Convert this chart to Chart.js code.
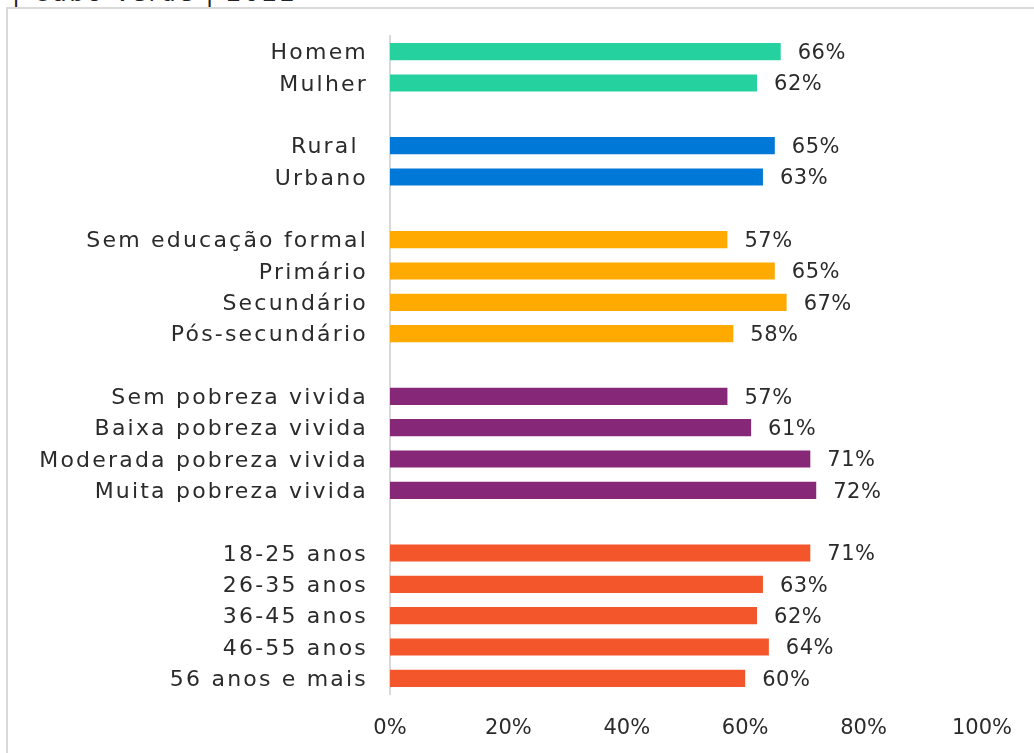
<!DOCTYPE html>
<html lang="pt">
<head>
<meta charset="utf-8">
<title>Cabo Verde 2022</title>
<script src="https://cdn.jsdelivr.net/npm/chart.js@4"></script>
<style>
    html, body { margin: 0; padding: 0; background: #fff; overflow: hidden; }
    #wrap { position: relative; width: 1034px; height: 753px; }
    #topTitle {
        position: absolute; left: 12px; top: -19px;
        font: 24px 'DejaVu Sans', sans-serif; color: #222; white-space: pre;
        line-height: 24px; letter-spacing: 2.5px;
    }
    #frame {
        position: absolute; left: 6px; top: 7px; width: 1100px; height: 800px;
        border: 2px solid #d9d9d9;
    }
    canvas { position: absolute; left: 0; top: 0; }
</style>
</head>
<body>
<div id="wrap">
    <div id="topTitle">| Cabo Verde | 2022</div>
    <div id="frame"></div>
    <canvas id="barras" width="1034" height="753"></canvas>
</div>
<script>
// Categorias (as linhas vazias separam os grupos)
const categorias = [
    'Homem', 'Mulher', '',
    'Rural ', 'Urbano', '',
    'Sem educação formal', 'Primário', 'Secundário', 'Pós-secundário', '',
    'Sem pobreza vivida', 'Baixa pobreza vivida', 'Moderada pobreza vivida', 'Muita pobreza vivida', '',
    '18-25 anos', '26-35 anos', '36-45 anos', '46-55 anos', '56 anos e mais',
];
const valores = [
    66, 62, null,
    65, 63, null,
    57, 65, 67, 58, null,
    57, 61, 71, 72, null,
    71, 63, 62, 64, 60,
];
// Grupo de cada linha (índice em coresGrupo)
const grupos = [
    0, 0, null,
    1, 1, null,
    2, 2, 2, 2, null,
    3, 3, 3, 3, null,
    4, 4, 4, 4, 4,
];
const coresGrupo = ['#25D19F', '#0078D7', '#FFAA00', '#862778', '#F2562A'];
const ticksX = [0, 20, 40, 60, 80, 100];

const FONT = "'DejaVu Sans', sans-serif";
const TXT = '#2b2b2b';

// Espaçamento entre letras das categorias (a fonte original é bem larga)
const espacoPlugin = {
    id: 'espaco',
    beforeDraw: (chart) => { chart.ctx.letterSpacing = '2.2px'; },
};

// Rótulos de valor à direita das barras
const rotulosPlugin = {
    id: 'rotulos',
    afterDatasetsDraw: (chart) => {
        const { ctx: c } = chart;
        const meta = chart.getDatasetMeta(0);
        c.save();
        c.letterSpacing = '0.5px';
        c.font = `21px ${FONT}`;
        c.fillStyle = TXT;
        c.textAlign = 'left';
        c.textBaseline = 'middle';
        meta.data.forEach((bar, i) => {
            if (valores[i] == null) return;
            c.fillText(`${valores[i]}%`, bar.x + 17, bar.y + 2);
        });
        c.restore();
        // rótulos do eixo x são desenhados depois (ticks.z: 1), sem espaçamento
        c.letterSpacing = '0px';
    },
};

new Chart(document.getElementById('barras'), {
    type: 'bar',
    data: {
        labels: categorias,
        datasets: [{
            data: valores,
            backgroundColor: grupos.map(g => g == null ? 'transparent' : coresGrupo[g]),
            borderWidth: 0,
            barPercentage: 0.55,
            categoryPercentage: 1,
        }],
    },
    options: {
        indexAxis: 'y',
        responsive: false,
        animation: false,
        layout: { padding: { top: 36, right: 49, bottom: 0, left: 0 } },
        plugins: {
            legend: { display: false },
            tooltip: { enabled: false },
        },
        scales: {
            x: {
                min: 0,
                max: 100,
                afterBuildTicks: (s) => { s.ticks = ticksX.map(v => ({ value: v })); },
                afterFit: (s) => { s.height = 59; },
                grid: { display: false, drawTicks: false },
                border: { display: false },
                ticks: {
                    z: 1,
                    padding: 22,
                    font: { family: FONT, size: 21 },
                    color: TXT,
                    callback: (v) => `${v}%`,
                },
            },
            y: {
                afterFit: (s) => { s.width = 390; },
                grid: { display: false, drawTicks: false },
                border: { display: true, color: '#d9d9d9', width: 2 },
                ticks: {
                    padding: 22,
                    labelOffset: 2,
                    autoSkip: false,
                    font: { family: FONT, size: 22 },
                    color: TXT,
                },
            },
        },
    },
    plugins: [espacoPlugin, rotulosPlugin],
});
</script>
</body>
</html>
